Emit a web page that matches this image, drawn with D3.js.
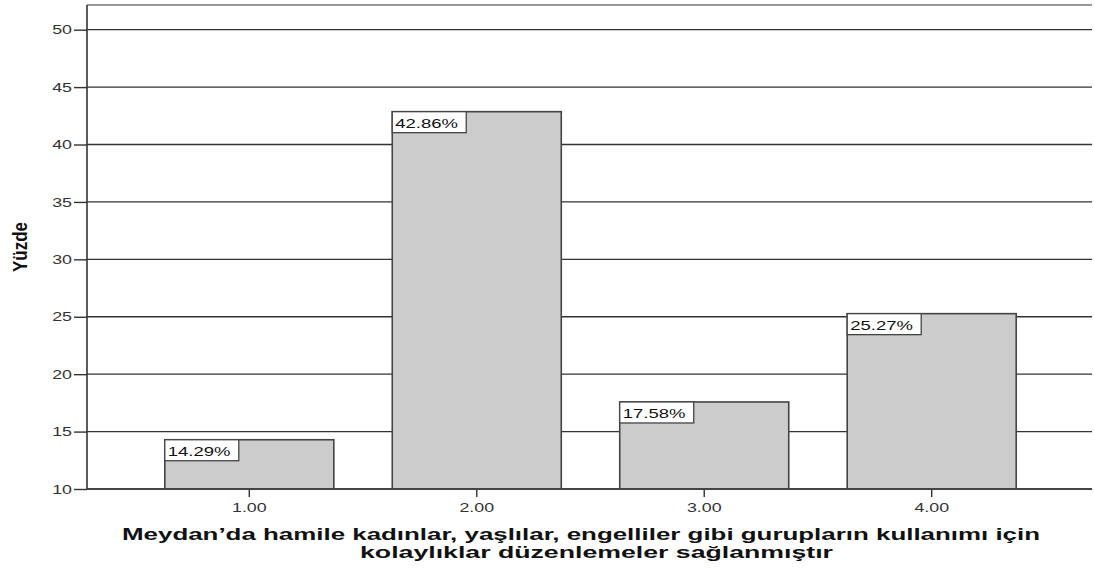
<!DOCTYPE html>
<html>
<head>
<meta charset="utf-8">
<title>Yüzde</title>
<script src="https://d3js.org/d3.v7.min.js"></script>
<style>
  body { margin: 0; background: #fff; }
  text { font-family: "Liberation Sans", Arial, sans-serif; }
</style>
</head>
<body>
<div id="chart"></div>
<script>
// data
const categories = ["1.00", "2.00", "3.00", "4.00"];
const percents = [14.29, 42.86, 17.58, 25.27];
const yTicks = [10, 15, 20, 25, 30, 35, 40, 45, 50];
const yTitle = "Yüzde";
const xTitleLines = [
  "Meydan’da hamile kadınlar, yaşlılar, engelliler gibi gurupların kullanımı için",
  "kolaylıklar düzenlemeler sağlanmıştır"
];

const w = 1094, h = 570;
const plot = { left: 87, right: 1094, top: 5, bottom: 489 };
const sx = 1.37; // the original picture is stretched sideways, text too

const svg = d3.select("#chart").append("svg")
  .attr("width", w)
  .attr("height", h);

const x = d3.scaleBand()
  .domain(categories)
  .range([plot.left, plot.right])
  .paddingInner(0.257)
  .paddingOuter(0.342);

const y = d3.scaleLinear()
  .domain([10, 52.15])
  .range([plot.bottom, plot.top]);

// top frame line
svg.append("line")
  .attr("x1", plot.left).attr("x2", plot.right - 2)
  .attr("y1", plot.top).attr("y2", plot.top)
  .attr("stroke", "#777").attr("stroke-width", 1.5);

// gridlines
svg.append("g")
  .selectAll("line")
  .data(yTicks.slice(1))
  .join("line")
  .attr("x1", plot.left).attr("x2", plot.right - 2)
  .attr("y1", d => y(d)).attr("y2", d => y(d))
  .attr("stroke", "#333").attr("stroke-width", 1.3);

// bars
svg.append("g")
  .selectAll("rect")
  .data(percents)
  .join("rect")
  .attr("x", (d, i) => x(categories[i]))
  .attr("y", d => y(d))
  .attr("width", x.bandwidth())
  .attr("height", d => y(10) - y(d))
  .attr("fill", "#cccccc")
  .attr("stroke", "#444")
  .attr("stroke-width", 1.6);

// value labels
const lab = svg.append("g")
  .selectAll("g")
  .data(percents)
  .join("g")
  .attr("transform", (d, i) => `translate(${x(categories[i])},${y(d)})`);

lab.append("rect")
  .attr("width", 74).attr("height", 21)
  .attr("fill", "#fff")
  .attr("stroke", "#444")
  .attr("stroke-width", 1.3);

lab.append("text")
  .attr("transform", `translate(3,16) scale(${sx},1)`)
  .attr("font-size", 13.5)
  .attr("fill", "#111")
  .text(d => d.toFixed(2) + "%");

// axes
const yAxis = svg.append("g")
  .attr("transform", `translate(${plot.left},0)`)
  .call(d3.axisLeft(y).tickValues(yTicks).tickSize(13).tickPadding(2));
yAxis.select(".domain").remove();
yAxis.selectAll(".tick line").attr("stroke", "#333").attr("stroke-width", 1.4);
yAxis.selectAll(".tick text")
  .attr("x", -15 / sx)
  .attr("transform", `scale(${sx},1)`)
  .attr("font-size", 13).attr("fill", "#333")
  .attr("font-family", "Liberation Sans, Arial, sans-serif");

svg.append("line")
  .attr("x1", plot.left).attr("x2", plot.left)
  .attr("y1", plot.top).attr("y2", plot.bottom)
  .attr("stroke", "#333").attr("stroke-width", 1.6);

const xAxis = svg.append("g")
  .attr("transform", `translate(0,${plot.bottom})`)
  .call(d3.axisBottom(x).tickSize(8).tickPadding(6));
xAxis.select(".domain").remove();
xAxis.selectAll(".tick line").attr("stroke", "#333").attr("stroke-width", 1.4);
xAxis.selectAll(".tick text")
  .attr("transform", `scale(${sx},1)`)
  .attr("font-size", 13).attr("fill", "#333")
  .attr("font-family", "Liberation Sans, Arial, sans-serif");

svg.append("line")
  .attr("x1", plot.left).attr("x2", plot.right - 2)
  .attr("y1", plot.bottom).attr("y2", plot.bottom)
  .attr("stroke", "#444").attr("stroke-width", 2.2);

// titles
svg.append("text")
  .attr("transform", `translate(27,247) scale(${sx},1) rotate(-90)`)
  .attr("text-anchor", "middle")
  .attr("font-size", 15)
  .attr("font-weight", "bold")
  .attr("textLength", 50)
  .attr("lengthAdjust", "spacingAndGlyphs")
  .attr("fill", "#111")
  .text(yTitle);

const xt = [
  { cx: 581, base: 540, len: 918 },
  { cx: 596.5, base: 558, len: 473 }
];
svg.append("g")
  .selectAll("text")
  .data(xTitleLines)
  .join("text")
  .attr("transform", (d, i) => `translate(${xt[i].cx},${xt[i].base}) scale(${sx},1)`)
  .attr("text-anchor", "middle")
  .attr("font-size", 16.5)
  .attr("font-weight", "bold")
  .attr("textLength", (d, i) => xt[i].len / sx)
  .attr("lengthAdjust", "spacingAndGlyphs")
  .attr("fill", "#111")
  .text(d => d);
</script>
</body>
</html>
